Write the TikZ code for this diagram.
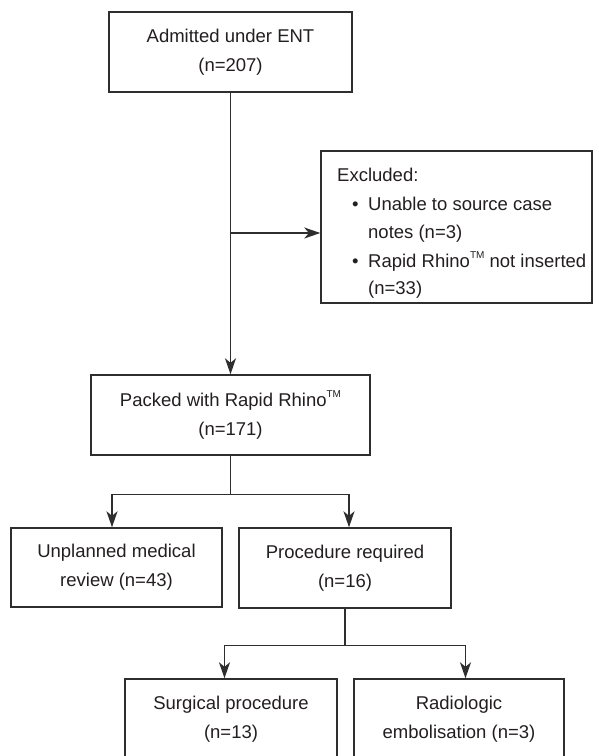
\documentclass[tikz,border=0pt]{standalone}
\usepackage{fontspec}
\setmainfont{Liberation Sans}
\usetikzlibrary{arrows.meta}
\definecolor{linec}{HTML}{2E2E2E}
\definecolor{textc}{HTML}{231F20}
\newcommand{\tmark}{\raisebox{0.45em}{\fontsize{10}{10}\selectfont TM}}
\begin{document}
\begin{tikzpicture}[x=1pt,y=-1pt,
  box/.style={draw=linec, line width=1.4pt, text=textc, align=center,
    font=\fontsize{18.5}{29}\selectfont, inner sep=0pt},
  txt/.style={text=textc, font=\fontsize{18.5}{29}\selectfont, inner sep=0pt, anchor=base west},
  conn/.style={draw=linec, line width=1.4pt},
  arr/.style={conn, -{Stealth[length=16pt,width=11pt,inset=4.5pt]}}]
\useasboundingbox[fill=white] (0,0) rectangle (598,756);

\node[box, minimum width=243pt, minimum height=80pt] (adm) at (230.5,52) {Admitted under ENT\\(n=207)};
\node[box, minimum width=271pt, minimum height=152pt] (ex) at (456.5,227) {};
\node[box, minimum width=279pt, minimum height=80pt] (pk) at (230.5,415) {Packed with Rapid Rhino\tmark\\(n=171)};
\node[box, minimum width=211pt, minimum height=79pt] (un) at (116.5,567.5) {Unplanned medical\\review (n=43)};
\node[box, minimum width=212pt, minimum height=80pt] (pr) at (345,568) {Procedure required\\(n=16)};
\node[box, minimum width=212pt, minimum height=80pt] (su) at (231,719) {Surgical procedure\\(n=13)};
\node[box, minimum width=210pt, minimum height=80pt] (ra) at (459,719) {Radiologic\\embolisation (n=3)};

\node[txt] (e1) at (337,181) {Excluded:};
\node[txt] (e2) at (352,210) {\makebox[16pt][l]{•}Unable to source case};
\node[txt] (e3) at (368,238.5) {notes (n=3)};
\node[txt] (e4) at (352,267) {\makebox[16pt][l]{•}Rapid Rhino\tmark{} not inserted};
\node[txt] (e5) at (368,294) {(n=33)};

\draw[arr] (adm.south) -- (pk.north);
\coordinate (bx) at (230.5,233);
\draw[arr] (bx) -- (ex.west |- bx);

\draw[conn] (pk.south) -- ++(0,39) coordinate (j1);
\draw[arr] (j1) -| ([xshift=-4.5pt]un.north);
\draw[arr] (j1) -| ([xshift=4pt]pr.north);

\draw[conn] (pr.south) -- ++(0,37) coordinate (j2);
\draw[arr] (j2) -| ([xshift=-6.5pt]su.north);
\draw[arr] (j2) -| ([xshift=6.5pt]ra.north);
\end{tikzpicture}
\end{document}
